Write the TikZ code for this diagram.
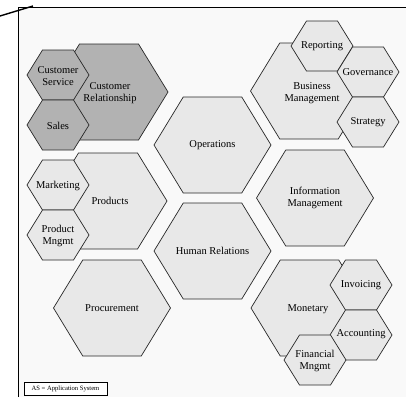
\documentclass[tikz,border=0pt]{standalone}
\usepackage{fontspec}
\setmainfont{Liberation Serif}
\usepackage{tikz}
\usetikzlibrary{calc}

\definecolor{paperbg}{RGB}{249,249,249}
\definecolor{cellgrey}{RGB}{232,232,232}
\definecolor{cellcrm}{RGB}{178,178,178}
\definecolor{cellline}{RGB}{40,40,40}

% hexagon: center, half-width, half-height, style
\newcommand{\hexcell}[4]{%
  \draw[#4,shift={#1}] (-#2,0) -- (-#2/2,-#3) -- (#2/2,-#3) -- (#2,0) -- (#2/2,#3) -- (-#2/2,#3) -- cycle;}

\tikzset{
  light/.style={fill=cellgrey,draw=cellline,line width=0.7pt},
  dark/.style={fill=cellcrm,draw=cellline,line width=0.7pt},
  lbl/.style={align=center,font=\fontsize{10.5}{12}\selectfont,inner sep=0pt}
}

\begin{document}
\begin{tikzpicture}[x=1pt,y=-1pt]
	\useasboundingbox (0,0) rectangle (406,397);
	\fill[paperbg] (18,7) rectangle (406,397);
	\draw[line width=0.8pt] (18,397) -- (18,7) -- (406,7);
	\draw[line width=1.4pt] (0,16) -- (33,6);

	% big cells
	\hexcell{(109,92)}{59}{48}{dark}
	\hexcell{(108,201)}{59}{48}{light}
	\hexcell{(112,308)}{58.5}{48}{light}
	\hexcell{(212.5,145)}{58.5}{48}{light}
	\hexcell{(212.5,251)}{58.5}{48}{light}
	\hexcell{(309,91)}{58.5}{48}{light}
	\hexcell{(315,198)}{58.5}{48}{light}
	\hexcell{(309.5,308)}{58.5}{48}{light}

	% small cells
	\hexcell{(58,75)}{31}{25}{dark}
	\hexcell{(58,125)}{31}{25}{dark}
	\hexcell{(58,185)}{31}{25}{light}
	\hexcell{(58,235)}{31}{25}{light}
	\hexcell{(322,46)}{31}{25}{light}
	\hexcell{(368,72)}{31}{25}{light}
	\hexcell{(368,122)}{31}{25}{light}
	\hexcell{(361,285)}{31}{25}{light}
	\hexcell{(361,335)}{31}{25}{light}
	\hexcell{(315,360)}{31}{25}{light}

	\node[lbl] (crm) at (110,93) {Customer\\Relationship};
	\node[lbl] (prod) at (110,201) {Products};
	\node[lbl] (proc) at (112,308) {Procurement};
	\node[lbl] (ops) at (212.5,145) {Operations};
	\node[lbl] (hr) at (212.5,251) {Human Relations};
	\node[lbl] (bm) at (312,93) {Business\\Management};
	\node[lbl] (im) at (315,198) {Information\\Management};
	\node[lbl] (mon) at (308,309) {Monetary};

	\node[lbl] (cs) at (58,76) {Customer\\Service};
	\node[lbl] (sal) at (58,126) {Sales};
	\node[lbl] (mkt) at (58,186) {Marketing};
	\node[lbl] (pm) at (58,236) {Product\\Mngmt};
	\node[lbl] (rep) at (322,46) {Reporting};
	\node[lbl] (gov) at (368,72) {Governance};
	\node[lbl] (str) at (368,122) {Strategy};
	\node[lbl] (inv) at (361,285) {Invoicing};
	\node[lbl] (acc) at (361,334) {Accounting};
	\node[lbl] (fin) at (315,361) {Financial\\Mngmt};

	\node[draw,line width=0.6pt,fill=white,inner sep=0pt,minimum width=83pt,minimum height=13pt,font=\fontsize{6.6}{7}\selectfont] (legend) at (65.5,388.5) {AS = Application System};

\end{tikzpicture}
\end{document}
